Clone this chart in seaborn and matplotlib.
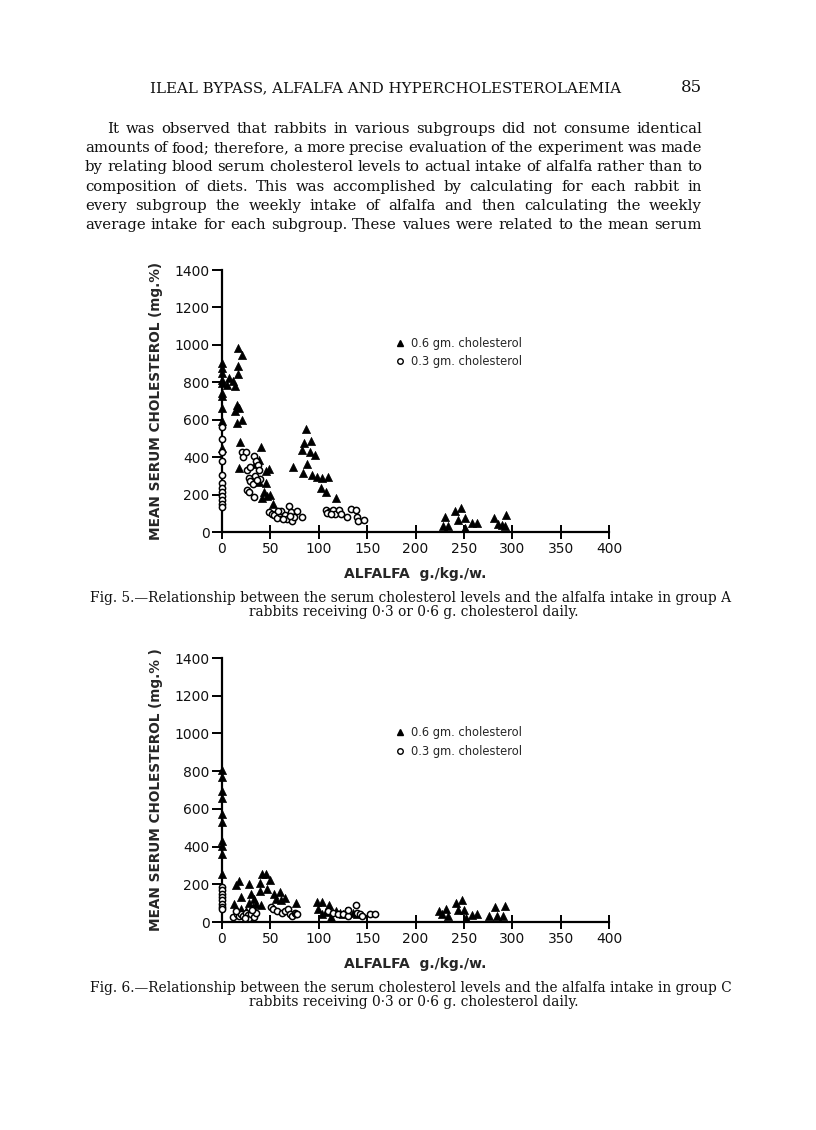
import numpy as np
import pandas as pd
import matplotlib
matplotlib.use('Agg')
import matplotlib.pyplot as plt
import seaborn as sns
from matplotlib.lines import Line2D

# Fig. 5 (group A)
a_tri_x = [0, 0, 0, 0, 0, 0, 0, 0, 0, 0,
           5, 7, 11, 13, 15, 13, 15, 16.5, 21, 16.5, 16.5, 18, 21, 19, 18,
           40, 38, 34, 45, 49, 45, 38, 43, 46, 50, 53, 41,
           73, 83, 85, 87, 92, 84, 88, 91, 96, 93, 98, 103, 110, 102, 108, 118,
           230, 228, 234, 241, 247, 244, 251, 251, 258, 264,
           281, 285, 289, 293, 294]
a_tri_y = [902, 876, 849, 813, 796, 742, 725, 662, 591, 449,
           787, 822, 805, 778, 680, 648, 583, 982, 947, 885, 845, 662, 600, 481, 343,
           455, 387, 364, 325, 334, 263, 265, 215, 192, 200, 151, 183,
           348, 440, 476, 552, 485, 316, 364, 428, 410, 304, 293, 286, 293, 236, 213, 183,
           82, 32, 32, 112, 130, 62, 73, 23, 46, 48,
           76, 41, 36, 32, 89]
a_circ_x = [0, 0, 0, 0, 0, 0, 0, 0, 0, 0, 0, 0,
            21, 25, 22, 26, 33, 35, 28, 29, 26, 28, 33, 32, 39, 37, 29, 34, 36, 38,
            49, 52, 54, 57, 60, 61, 65, 67, 69, 71, 72, 74, 78, 83, 58, 63, 70,
            107, 111, 115, 117, 121, 123, 129, 133, 138, 140, 141, 147, 109, 113]
a_circ_y = [560, 499, 426, 382, 307, 263, 236, 215, 192, 170, 151, 135,
            428, 428, 401, 329, 405, 382, 286, 272, 227, 215, 188, 258, 281, 360, 350, 300, 280, 330,
            108, 98, 89, 76, 103, 112, 89, 67, 139, 107, 59, 80, 112, 82, 110, 70, 85,
            115, 108, 117, 98, 117, 94, 82, 121, 115, 82, 59, 64, 100, 95]

# Fig. 6 (group C)
c_tri_x = [0, 0, 0, 0, 0, 0, 0, 0, 0, 0,
           14, 18, 28, 12, 20, 28, 30, 33, 39, 41, 45, 50, 47, 39, 54, 60, 56, 61, 65, 76,
           25, 20, 32, 35, 40,
           98, 103, 99, 103, 107, 110, 111, 113, 118, 122, 125, 128, 135, 140,
           224, 232, 234, 227, 242, 248, 244, 250, 252, 258, 264,
           276, 282, 284, 290, 293]
c_tri_y = [807, 771, 697, 656, 573, 532, 429, 402, 363, 257,
           195, 218, 202, 98, 133, 103, 151, 124, 207, 257, 257, 225, 177, 165, 151, 160, 124, 119, 128, 103,
           60, 70, 80, 95, 89,
           106, 106, 71, 45, 55, 70, 89, 27, 60, 50, 40, 60, 50, 45,
           58, 71, 30, 44, 103, 115, 66, 66, 21, 35, 41,
           32, 80, 30, 30, 85]
c_circ_x = [0, 0, 0, 0, 0, 0, 0, 0,
            11, 15, 18, 20, 22, 25, 27, 28, 30, 33, 35, 14, 24, 31,
            51, 53, 57, 62, 65, 68, 70, 72, 75, 76, 78,
            110, 115, 120, 125, 130, 130, 138, 140, 143, 145, 153, 158]
c_circ_y = [186, 168, 151, 133, 115, 98, 80, 67,
            27, 40, 30, 45, 30, 50, 35, 20, 45, 25, 50, 60, 22, 62,
            80, 70, 60, 50, 60, 70, 40, 30, 50, 40, 45,
            60, 50, 40, 45, 30, 66, 89, 50, 40, 30, 41, 41]

header = "ILEAL BYPASS, ALFALFA AND HYPERCHOLESTEROLAEMIA"
para = [
    "It was observed that rabbits in various subgroups did not consume identical",
    "amounts of food; therefore, a more precise evaluation of the experiment was made",
    "by relating blood serum cholesterol levels to actual intake of alfalfa rather than to",
    "composition of diets.  This was accomplished by calculating for each rabbit in",
    "every subgroup the weekly intake of alfalfa and then calculating the weekly",
    "average intake for each subgroup.  These values were related to the mean serum",
]
cap5 = ["Fig. 5.\u2014Relationship between the serum cholesterol levels and the alfalfa intake in group A",
        "rabbits receiving 0\u00b73 or 0\u00b76 g. cholesterol daily."]
cap6 = ["Fig. 6.\u2014Relationship between the serum cholesterol levels and the alfalfa intake in group C",
        "rabbits receiving 0\u00b73 or 0\u00b76 g. cholesterol daily."]

sns.set_theme(style='ticks')
plt.rcParams['font.family'] = ['DejaVu Sans']
W, H = 816, 1130
fig = plt.figure(figsize=(8.16, 11.3), dpi=100)
fig.patch.set_facecolor('white')
serif = dict(family='DejaVu Serif', color='#111111')
r = fig.canvas.get_renderer()


def fx(x):
    return x / W


def fy(y):
    return 1 - y / H


def word_widths(words, size):
    out = []
    for w in words:
        t = fig.text(0, 0, w, fontsize=size, **serif)
        out.append(t.get_window_extent(r).width)
        t.remove()
    return out


# one font size for the whole paragraph: the largest that leaves real gaps in every line
starts = [107] + [85] * (len(para) - 1)
size = 12
while size > 9:
    ok = True
    for line, x0 in zip(para, starts):
        words = line.split()
        if (702 - x0 - sum(word_widths(words, size))) / (len(words) - 1) < 3.8:
            ok = False
            break
    if ok:
        break
    size -= 0.1

for i, (line, x0) in enumerate(zip(para, starts)):
    words = line.split()
    widths = word_widths(words, size)
    gap = (702 - x0 - sum(widths)) / (len(words) - 1)
    x = x0
    for w, wd in zip(words, widths):
        fig.text(fx(x), fy(133 + i * 19.2), w, fontsize=size, va='baseline', **serif)
        x += wd + gap

fig.text(fx(386), fy(92), header, fontsize=10.8, ha='center', va='baseline', **serif)
fig.text(fx(702), fy(92), "85", fontsize=12, ha='right', va='baseline', **serif)

for cap, y in [(cap5, 602), (cap6, 992)]:
    fig.text(fx(90), fy(y), cap[0], fontsize=9.9, ha='left', va='baseline', **serif)
    fig.text(fx(414), fy(y + 14), cap[1], fontsize=9.9, ha='center', va='baseline', **serif)


def panel(rect, tx, ty, cx, cy, ylabel, leg_y):
    ax = fig.add_axes(rect)
    sns.scatterplot(x=tx, y=ty, ax=ax, marker='^', color='black', edgecolor='black',
                    s=34, linewidth=0.5, clip_on=False, zorder=3)
    sns.scatterplot(x=cx, y=cy, ax=ax, marker='o', color='white', edgecolor='black',
                    s=20, linewidth=1.1, clip_on=False, zorder=3)
    ax.set_xlim(0, 400)
    ax.set_ylim(0, 1400)
    ax.set_xticks(range(0, 401, 50))
    ax.set_yticks(range(0, 1401, 200))
    ax.set_facecolor('white')
    sns.despine(ax=ax)
    for s in ['left', 'bottom']:
        ax.spines[s].set_linewidth(1.6)
        ax.spines[s].set_color('black')
    ax.tick_params(axis='both', length=7, width=1.4, color='black', labelsize=10,
                   labelcolor='#111111', pad=2)
    ax.tick_params(axis='x', direction='inout', length=10)
    ax.set_xlabel("ALFALFA  g./kg./w.", fontsize=10, fontweight='bold', labelpad=8)
    ax.set_ylabel(ylabel, fontsize=9.8, fontweight='bold', labelpad=8)
    handles = [Line2D([], [], marker='^', color='black', ls='', markersize=4.8),
               Line2D([], [], marker='o', markerfacecolor='white', markeredgecolor='black',
                      markeredgewidth=1, ls='', markersize=4)]
    ax.legend(handles, ["0.6 gm. cholesterol", "0.3 gm. cholesterol"], loc='upper left',
              bbox_to_anchor=(0.42, leg_y), frameon=False, fontsize=8.3, handlelength=0.8,
              handletextpad=0.6, labelspacing=0.5)
    return ax


panel([fx(222), fy(532), fx(609) - fx(222), fy(270) - fy(532)],
      a_tri_x, a_tri_y, a_circ_x, a_circ_y, "MEAN SERUM CHOLESTEROL (mg.%)", 0.785)
panel([fx(222), fy(922), fx(609) - fx(222), fy(658) - fy(922)],
      c_tri_x, c_tri_y, c_circ_x, c_circ_y, "MEAN SERUM CHOLESTEROL (mg.% )", 0.78)

fig.savefig('out.png', dpi=100, facecolor='white')
